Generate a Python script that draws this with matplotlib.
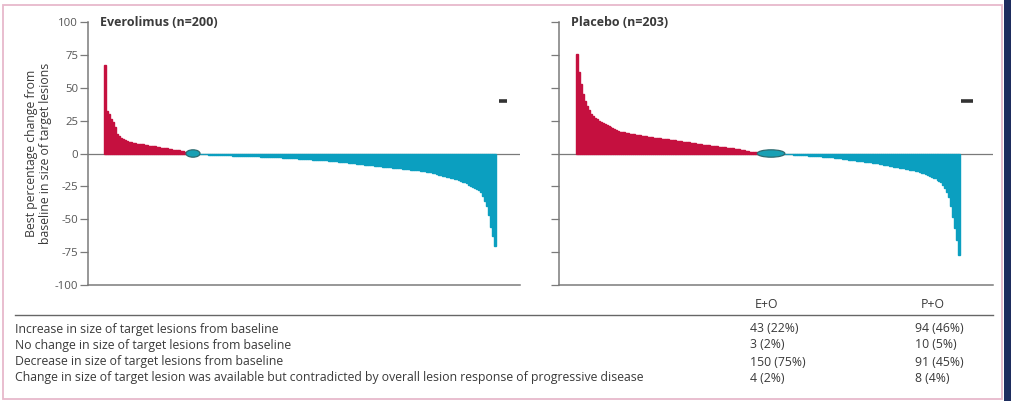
import matplotlib
matplotlib.use("Agg")
import matplotlib.pyplot as plt
from matplotlib.patches import Ellipse, Rectangle
from matplotlib.lines import Line2D

plt.rcParams['font.family'] = ['Open Sans', 'DejaVu Sans']

# ---------------- data ----------------
groups = ["Everolimus (n=200)", "Placebo (n=203)"]

evero_increase = [67, 32, 30, 26, 24, 20, 15, 13, 12, 11,
                  10, 9.5, 9, 8.5, 8, 8, 7.5, 7.5, 7, 7,
                  6.5, 6.5, 6, 6, 5.5, 5.5, 5, 5, 4.5, 4.5,
                  4, 4, 3.5, 3.5, 3, 3, 2.5, 2.5, 2, 2,
                  1.5, 1, 0.5]
evero_nochange = [0, 0, 0]
evero_decrease = [-0.2, -0.3, -0.4, -0.5, -0.6, -0.7, -0.8, -0.9, -1.0, -1.1,
                  -1.2, -1.2, -1.3, -1.3, -1.4, -1.4, -1.5, -1.5, -1.6, -1.6,
                  -1.7, -1.7, -1.8, -1.8, -1.9, -1.9, -2.0, -2.0, -2.1, -2.1,
                  -2.2, -2.2, -2.3, -2.3, -2.4, -2.5, -2.5, -2.6, -2.7, -2.7,
                  -2.8, -2.9, -3.0,
                  -3.1, -3.2, -3.3, -3.4, -3.5, -3.6, -3.7, -3.8, -3.9, -4.0,
                  -4.1, -4.2, -4.3, -4.4, -4.5, -4.6, -4.7, -4.8, -4.9, -5.0,
                  -5.1, -5.2, -5.3, -5.4, -5.5, -5.6, -5.8, -6.0, -6.1, -6.3,
                  -6.5, -6.6, -6.8, -7.0,
                  -7.2, -7.4, -7.5, -7.7, -7.9, -8.0, -8.2, -8.4, -8.5, -8.7,
                  -8.9, -9.0, -9.2, -9.4, -9.5, -9.7, -9.9, -10.0, -10.2, -10.4,
                  -10.5, -10.7, -10.9, -11.0, -11.2, -11.4, -11.5, -11.7, -11.9, -12.0,
                  -12.2, -12.4, -12.5, -12.7, -12.9, -13.0, -13.2, -13.5, -13.7, -14.0,
                  -14.4, -14.8, -15.2, -15.6, -16.0, -16.4, -16.8, -17.2, -17.6, -18.0,
                  -18.4, -18.8, -19.2, -19.6, -20.2, -20.8, -21.4, -22.0,
                  -22.8, -23.6, -24.4, -25.2, -26.0, -27.0, -28.0, -29.0,
                  -32, -36, -40, -47, -56, -63, -70]

placebo_increase = [76, 62, 53, 45, 40, 36, 33, 30, 28.5, 27, 26, 25, 24,
                    23.2, 22.4, 21.6, 20.8, 20.0, 19.2, 18.4, 17.7, 17.0,
                    16.7, 16.4, 16.1, 15.8, 15.5, 15.2, 14.9, 14.5,
                    14.3, 14.0, 13.8, 13.5, 13.3, 13.0, 12.8, 12.5, 12.3, 12.1,
                    11.9, 11.7, 11.5, 11.3, 11.1, 10.9, 10.7,
                    10.5, 10.3, 10.1, 9.9, 9.7, 9.5, 9.3, 9.1, 8.9, 8.7,
                    8.5, 8.3, 8.0, 7.8, 7.5, 7.3, 7.0,
                    6.8, 6.6, 6.4, 6.2, 6.0, 5.8, 5.6, 5.4, 5.2, 5.0,
                    4.8, 4.6, 4.4, 4.2, 4.1, 3.9, 3.8,
                    3.5, 3.2, 2.9, 2.6, 2.3, 2.0, 1.8, 1.5, 1.3, 1.0, 0.8, 0.5, 0.3]
placebo_nochange = [0, 0, 0, 0, 0, 0, 0, 0, 0, 0]
placebo_decrease = [-0.2, -0.3, -0.4, -0.5, -0.6, -0.7, -0.8, -0.9, -1.0, -1.1,
                    -1.2, -1.3, -1.4, -1.5, -1.6, -1.7, -1.8, -1.9, -2.0, -2.1,
                    -2.2, -2.4, -2.5, -2.6, -2.7, -2.9, -3.0,
                    -3.2, -3.4, -3.6, -3.8, -4.0, -4.2, -4.4, -4.6, -4.8, -5.0,
                    -5.2, -5.4, -5.6, -5.8, -6.0, -6.2, -6.4, -6.6, -6.8, -7.0,
                    -7.2, -7.4, -7.6, -7.9, -8.1, -8.4,
                    -8.7, -9.0, -9.3, -9.6, -9.9, -10.2, -10.5, -10.8, -11.1, -11.4,
                    -11.7, -12.0, -12.3, -12.6, -12.9, -13.2, -13.5,
                    -14.0, -14.6, -15.2, -15.8, -16.4, -17.0, -17.6, -18.3, -19.0, -19.8,
                    -20.8, -22.0,
                    -24, -26.5, -29.5, -33,
                    -40, -48, -57, -66, -77]

contradicted_counts = [4, 8]
contradicted_value = [40, 40]

yticks = [100, 75, 50, 25, 0, -25, -50, -75, -100]
ylabel = "Best percentage change from\nbaseline in size of target lesions"

table_rows = ["Increase in size of target lesions from baseline",
              "No change in size of target lesions from baseline",
              "Decrease in size of target lesions from baseline",
              "Change in size of target lesion was available but contradicted by overall lesion response of progressive disease"]
table_cols = ["E+O", "P+O"]
col_eo = ["43 (22%)", "3 (2%)", "150 (75%)", "4 (2%)"]
col_po = ["94 (46%)", "10 (5%)", "91 (45%)", "8 (4%)"]

# ---------------- style ----------------
RED = "#C5103F"
BLUE = "#0B9FC0"
OVAL = "#18A0B4"
OVAL_EDGE = "#2E6B70"
AXC = "#7a7a7a"
TXT = "#3a3a3a"

W, H = 1011, 401
fig = plt.figure(figsize=(W / 100, H / 100), dpi=100)
fig.patch.set_facecolor("white")

def fx(px):
    return px / W

def fy(py):
    return 1 - py / H

# page decorations: pink border and dark strip on the right
fig.add_artist(Rectangle((fx(3), fy(399)), fx(1002) - fx(3), fy(5) - fy(399),
                         transform=fig.transFigure, fill=False,
                         edgecolor="#E7B9CB", linewidth=1.3))
fig.add_artist(Rectangle((fx(1004), 0), 1 - fx(1004), 1, transform=fig.transFigure,
                         facecolor="#1E2D5E", edgecolor="none"))

panels = [
    (evero_increase, evero_nochange, evero_decrease, 88, 520, 105, 2.0),
    (placebo_increase, placebo_nochange, placebo_decrease, 559, 993, 577, 1.97),
]

y_top, y_bot = 22, 285
for k, (inc, zer, dec, x0, x1, xb, ppb) in enumerate(panels):
    ax = fig.add_axes([fx(x0), fy(y_bot), fx(x1) - fx(x0), fy(y_top) - fy(y_bot)])
    ax.set_facecolor("none")
    vals = inc + zer + dec
    n_inc, n_zero = len(inc), len(zer)
    xs = list(range(len(vals)))
    colors = [RED] * n_inc + [OVAL] * n_zero + [BLUE] * len(dec)
    ax.bar(xs, vals, width=1.0, color=colors, edgecolor=colors, linewidth=1.0, zorder=3)
    ax.axhline(0, color=AXC, linewidth=0.9, zorder=2)
    ell = Ellipse((n_inc + (n_zero - 1) / 2, 0), width=n_zero + 4, height=5.6,
                  facecolor=OVAL, edgecolor=OVAL_EDGE, linewidth=0.9, zorder=4)
    ax.add_patch(ell)
    # contradicted marker
    cx = len(vals) + 3
    hw = 1 + contradicted_counts[k] * 0.25
    ax.plot([cx - hw, cx + hw], [contradicted_value[k]] * 2, color="#333333",
            linewidth=2.6, solid_capstyle="butt", zorder=5)
    ax.set_xlim((x0 - xb) / ppb, (x1 - xb) / ppb)
    ax.set_ylim(-100, 100)
    ax.set_yticks(yticks)
    if k == 0:
        ax.set_yticklabels([str(t) for t in yticks])
    else:
        ax.set_yticklabels([])
    ax.tick_params(axis="y", direction="out", length=6, width=0.9, color=AXC,
                   labelsize=8.2, labelcolor="#555555", pad=1)
    ax.set_xticks([])
    for s in ["top", "right"]:
        ax.spines[s].set_visible(False)
    for s in ["left", "bottom"]:
        ax.spines[s].set_color(AXC)
        ax.spines[s].set_linewidth(1.1)
    ax.text(0.028, 1.0, groups[k], transform=ax.transAxes,
            ha="left", va="center", fontsize=9, color=TXT, fontweight="bold")
    if k == 0:
        ax.set_ylabel(ylabel, fontsize=8.8, color=TXT, labelpad=2, linespacing=1.05)

# table
fig.add_artist(Line2D([fx(15), fx(993)], [fy(315), fy(315)], transform=fig.transFigure,
                      color="#666666", linewidth=1.0))
fig.text(fx(767), fy(305), table_cols[0], ha="center", va="center", fontsize=8.8, color=TXT)
fig.text(fx(933), fy(305), table_cols[1], ha="center", va="center", fontsize=8.8, color=TXT)
row_y = [329, 345, 362, 378]
for i, lab in enumerate(table_rows):
    fig.text(fx(15), fy(row_y[i]), lab, ha="left", va="center", fontsize=8.8, color=TXT)
    fig.text(fx(750), fy(row_y[i]), col_eo[i], ha="left", va="center", fontsize=8.8, color=TXT)
    fig.text(fx(915), fy(row_y[i]), col_po[i], ha="left", va="center", fontsize=8.8, color=TXT)

fig.savefig("out.png", dpi=100, facecolor="white")
